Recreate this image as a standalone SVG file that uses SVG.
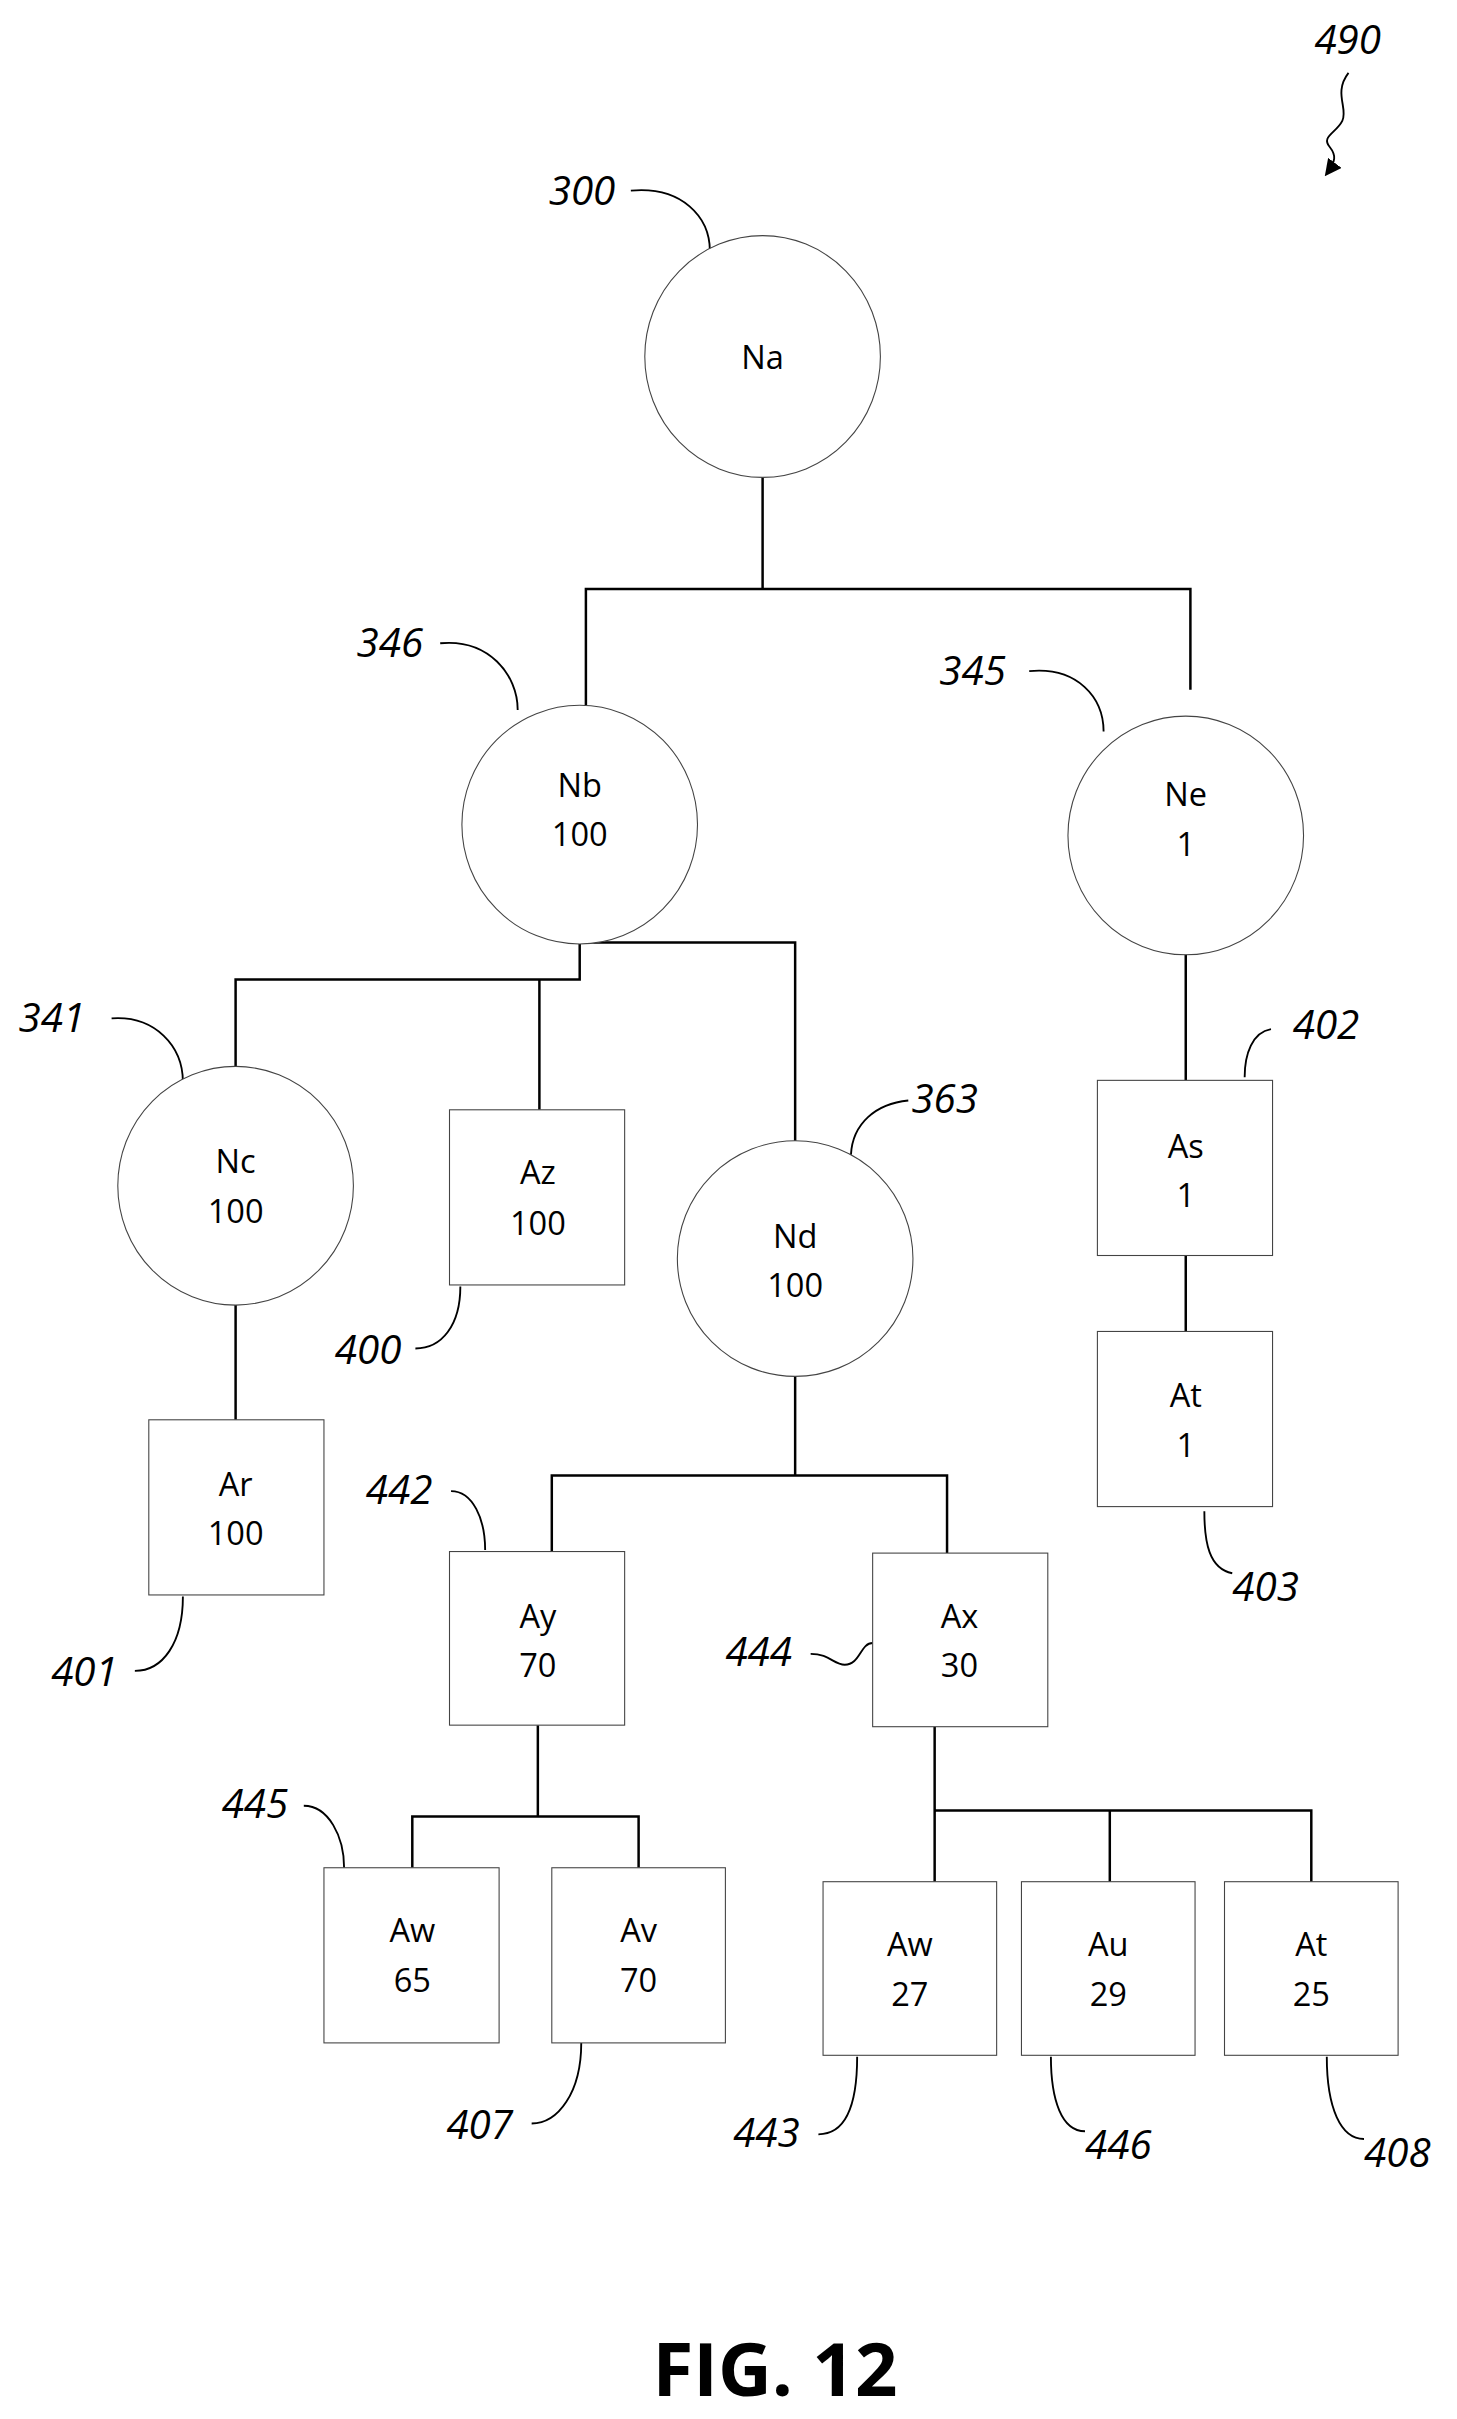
<svg xmlns="http://www.w3.org/2000/svg" width="1457" height="2419" viewBox="0 0 1457 2419">
<style>
.n{fill:#fff;stroke:#444;stroke-width:0.7}
.t{font-family:"Open Sans","Liberation Sans",sans-serif;font-size:21px;text-anchor:middle;fill:#000}
.r{font-family:"Open Sans","Liberation Sans",sans-serif;font-size:26px;font-style:italic;fill:#000}
.c{fill:none;stroke:#000;stroke-width:1.6}
.l{fill:none;stroke:#000;stroke-width:1.2}
</style>
<defs><marker id="ah" viewBox="0 0 10 10" refX="8" refY="5" markerWidth="9" markerHeight="9" orient="auto"><path d="M0,0 L10,5 L0,10 z" fill="#000"/></marker></defs>
<rect width="1457" height="2419" fill="#fff"/>
<g transform="scale(1.55)">
<g id="connectors">
<path class="c" d="M492,306V380M378,455V380H768V445"/>
<path class="c" d="M374,608V632H152V688M348,632V716M374,608H513V737"/>
<path class="c" d="M152,842V916M765,615V697M765,810V859"/>
<path class="c" d="M513,888V952M356,1001V952H611V1002"/>
<path class="c" d="M347,1113V1172M266,1205V1172H412V1205"/>
<path class="c" d="M603,1114V1214M603,1168H846V1214M716,1168V1214"/>
</g>
<g id="leaders">
<path class="l" d="M407,123 C440,120 458,140 458,162"/>
<path class="l" d="M284,415 C315,412 334,435 334,458"/>
<path class="l" d="M664,433 C695,430 712,450 712,472"/>
<path class="l" d="M72,657 C100,655 118,675 118,698"/>
<path class="l" d="M586,710 C565,712 550,725 549,745"/>
<path class="l" d="M820,664 C808,666 803,680 803,695"/>
<path class="l" d="M268,870 C285,870 297,855 297,830"/>
<path class="l" d="M87,1078 C105,1078 118,1060 118,1030"/>
<path class="l" d="M777,975 C777,995 780,1012 795,1015"/>
<path class="l" d="M291,962 C305,962 313,980 313,1000"/>
<path class="l" d="M523,1067 C535,1067 538,1074 545,1074 C555,1074 555,1060 563,1060"/>
<path class="l" d="M196,1165 C212,1165 222,1185 222,1205"/>
<path class="l" d="M343,1370 C360,1370 375,1350 375,1318"/>
<path class="l" d="M528,1377 C545,1377 553,1360 553,1327"/>
<path class="l" d="M678,1327 C678,1355 685,1375 700,1375"/>
<path class="l" d="M856,1327 C856,1360 865,1380 880,1380"/>
<path class="l" stroke-width="1.4" d="M870,47 C860,60 870,70 866,78 C862,86 852,88 858,95 C862,100 862,104 856,112" marker-end="url(#ah)"/>
</g>
<g id="Na"><ellipse class="n" cx="492" cy="230" rx="76" ry="78"/><text class="t" x="492" y="238">Na</text></g>
<g id="Nb"><ellipse class="n" cx="374" cy="532" rx="76" ry="77"/><text class="t" x="374" y="514">Nb</text><text class="t" x="374" y="546">100</text></g>
<g id="Ne"><ellipse class="n" cx="765" cy="539" rx="76" ry="77"/><text class="t" x="765" y="520">Ne</text><text class="t" x="765" y="552">1</text></g>
<g id="Nc"><ellipse class="n" cx="152" cy="765" rx="76" ry="77"/><text class="t" x="152" y="757">Nc</text><text class="t" x="152" y="789">100</text></g>
<g id="Az"><rect class="n" x="290" y="716" width="113" height="113"/><text class="t" x="347" y="764">Az</text><text class="t" x="347" y="797">100</text></g>
<g id="Nd"><ellipse class="n" cx="513" cy="812" rx="76" ry="76"/><text class="t" x="513" y="805">Nd</text><text class="t" x="513" y="837">100</text></g>
<g id="Ar"><rect class="n" x="96" y="916" width="113" height="113"/><text class="t" x="152" y="965">Ar</text><text class="t" x="152" y="997">100</text></g>
<g id="As"><rect class="n" x="708" y="697" width="113" height="113"/><text class="t" x="765" y="747">As</text><text class="t" x="765" y="779">1</text></g>
<g id="At1"><rect class="n" x="708" y="859" width="113" height="113"/><text class="t" x="765" y="908">At</text><text class="t" x="765" y="940">1</text></g>
<g id="Ay"><rect class="n" x="290" y="1001" width="113" height="112"/><text class="t" x="347" y="1050">Ay</text><text class="t" x="347" y="1082">70</text></g>
<g id="Ax"><rect class="n" x="563" y="1002" width="113" height="112"/><text class="t" x="619" y="1050">Ax</text><text class="t" x="619" y="1082">30</text></g>
<g id="Aw65"><rect class="n" x="209" y="1205" width="113" height="113"/><text class="t" x="266" y="1253">Aw</text><text class="t" x="266" y="1285">65</text></g>
<g id="Av70"><rect class="n" x="356" y="1205" width="112" height="113"/><text class="t" x="412" y="1253">Av</text><text class="t" x="412" y="1285">70</text></g>
<g id="Aw27"><rect class="n" x="531" y="1214" width="112" height="112"/><text class="t" x="587" y="1262">Aw</text><text class="t" x="587" y="1294">27</text></g>
<g id="Au29"><rect class="n" x="659" y="1214" width="112" height="112"/><text class="t" x="715" y="1262">Au</text><text class="t" x="715" y="1294">29</text></g>
<g id="At25"><rect class="n" x="790" y="1214" width="112" height="112"/><text class="t" x="846" y="1262">At</text><text class="t" x="846" y="1294">25</text></g>
<g id="refs">
<text class="r" x="848" y="35">490</text>
<text class="r" x="354" y="132">300</text>
<text class="r" x="230" y="424">346</text>
<text class="r" x="606" y="442">345</text>
<text class="r" x="12" y="666">341</text>
<text class="r" x="588" y="718">363</text>
<text class="r" x="834" y="670">402</text>
<text class="r" x="216" y="880">400</text>
<text class="r" x="33" y="1088">401</text>
<text class="r" x="795" y="1033">403</text>
<text class="r" x="236" y="970">442</text>
<text class="r" x="468" y="1075">444</text>
<text class="r" x="143" y="1173">445</text>
<text class="r" x="288" y="1380">407</text>
<text class="r" x="473" y="1385">443</text>
<text class="r" x="700" y="1393">446</text>
<text class="r" x="880" y="1398">408</text>
</g>
<text x="500" y="1546" font-family="'Open Sans','Liberation Sans',sans-serif" font-size="48" font-weight="bold" text-anchor="middle">FIG. 12</text>
</g>
</svg>
